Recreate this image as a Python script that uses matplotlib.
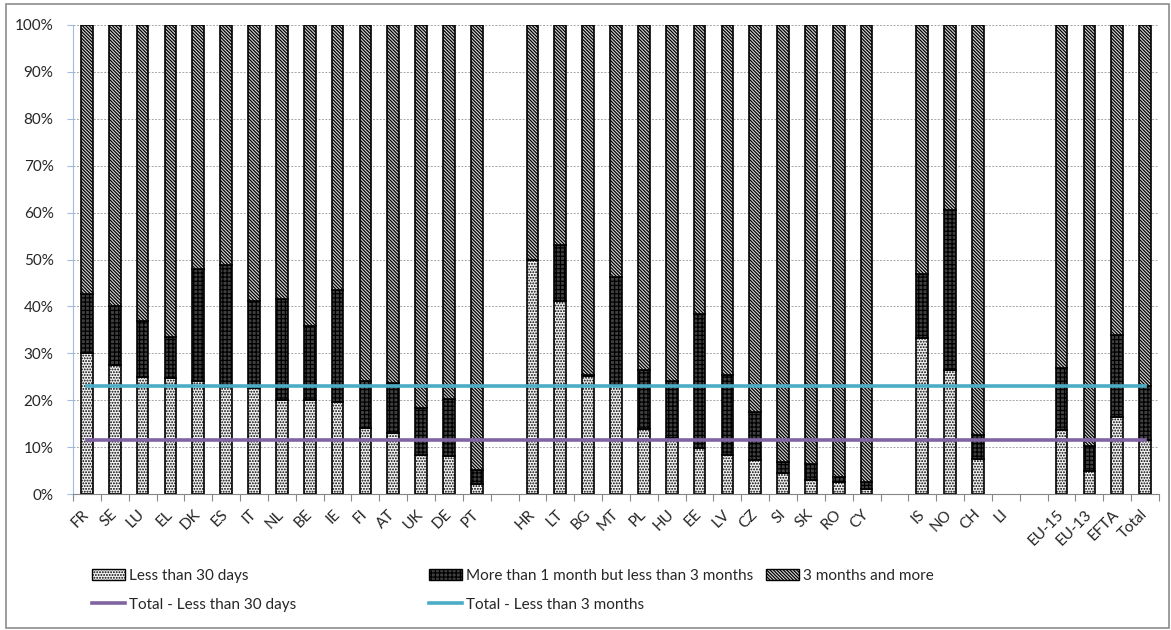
import numpy as np
import matplotlib
matplotlib.use("Agg")
import matplotlib.pyplot as plt
from matplotlib.patches import Patch, Rectangle
from matplotlib.lines import Line2D

# categories ('' = empty spacer slot in the original chart)
countries = ['FR', 'SE', 'LU', 'EL', 'DK', 'ES', 'IT', 'NL', 'BE', 'IE', 'FI', 'AT', 'UK', 'DE', 'PT', '',
             'HR', 'LT', 'BG', 'MT', 'PL', 'HU', 'EE', 'LV', 'CZ', 'SI', 'SK', 'RO', 'CY', '',
             'IS', 'NO', 'CH', 'LI', '',
             'EU-15', 'EU-13', 'EFTA', 'Total']

# shares in %, None = no bar
less_30 = [30.0, 27.6, 25.0, 24.8, 24.2, 22.8, 22.7, 20.0, 20.0, 19.7, 14.0, 13.1, 8.4, 8.1, 2.2, None,
           49.9, 41.1, 25.2, 23.2, 13.8, 12.0, 9.9, 8.3, 7.3, 4.4, 2.9, 2.6, 1.1, None,
           33.3, 26.4, 7.5, None, None,
           13.6, 4.9, 16.4, 11.6]
month_1_3 = [12.6, 12.5, 11.9, 8.7, 23.7, 26.0, 18.5, 21.6, 15.8, 23.9, 10.1, 10.5, 10.0, 12.2, 2.9, None,
             0.0, 12.0, 0.1, 23.1, 12.6, 12.1, 28.4, 17.0, 10.2, 2.4, 3.5, 1.0, 1.5, None,
             13.7, 34.2, 5.0, None, None,
             13.2, 5.3, 17.6, 11.4]
months_3_plus = [57.4, 59.9, 63.1, 66.5, 52.1, 51.2, 58.8, 58.4, 64.2, 56.4, 75.9, 76.4, 81.6, 79.7, 94.9, None,
                 50.1, 46.9, 74.7, 53.7, 73.6, 75.9, 61.7, 74.7, 82.5, 93.2, 93.6, 96.4, 97.4, None,
                 53.0, 39.4, 87.5, None, None,
                 73.2, 89.8, 66.0, 77.0]

total_less_30 = 11.6
total_less_3m = 23.0

plt.rcParams['font.family'] = ['Lato', 'DejaVu Sans']
plt.rcParams['hatch.linewidth'] = 0.9

FS = 11
W, H = 1171, 630
fig = plt.figure(figsize=(W / 100, H / 100), dpi=100)
ax = fig.add_axes([73 / W, 1 - 494 / H, (1159 - 73) / W, (494 - 25) / H])

x = np.arange(len(countries))
idx = [i for i, v in enumerate(less_30) if v is not None]
a = np.array([less_30[i] for i in idx]) / 100
b = np.array([month_1_3[i] for i in idx]) / 100
c = np.array([months_3_plus[i] for i in idx]) / 100
xs = x[idx]

dots, grid, diag = '......', '++++', '\\' * 10
c_low, c_mid, c_top = '#f2f2f2', '#404040', '#d9d9d9'

bw = 0.42
ax.bar(xs, a, bw, color=c_low, edgecolor='black', linewidth=1.2, hatch=dots, zorder=2)
ax.bar(xs, b, bw, bottom=a, color=c_mid, edgecolor='black', linewidth=1.2, hatch=grid, zorder=2)
ax.bar(xs, c, bw, bottom=a + b, color=c_top, edgecolor='black', linewidth=1.2, hatch=diag, zorder=2)

ax.plot([x[0], x[-1]], [total_less_30 / 100] * 2, color='#8064a2', lw=2.6, zorder=3)
ax.plot([x[0], x[-1]], [total_less_3m / 100] * 2, color='#4bacc6', lw=2.6, zorder=3)

ax.set_xlim(-0.5, len(countries) - 0.5)
ax.set_ylim(0, 1)
yt = np.arange(0, 1.01, 0.1)
ax.set_yticks(yt)
ax.set_yticklabels([f'{int(round(t * 100))}%' for t in yt], fontsize=FS, color='#262626')
ax.yaxis.grid(True, color='#a6a6a6', linestyle=(0, (2, 1.5)), linewidth=0.7, zorder=0)
ax.set_axisbelow(True)

ax.set_xticks(x)
ax.set_xticklabels(countries, rotation=45, ha='right', va='center', rotation_mode='anchor',
                   fontsize=FS, color='#262626')
ax.tick_params(axis='x', length=0, pad=13)
ax.set_xticks(np.arange(-0.5, len(countries)), minor=True)
ax.tick_params(axis='x', which='minor', length=5, color='#868686', width=0.8)
ax.tick_params(axis='y', length=4, color='#9dbbe3', width=0.8, pad=10)

for s in ['top', 'right']:
    ax.spines[s].set_visible(False)
ax.spines['left'].set_color('#9dbbe3')
ax.spines['bottom'].set_color('#868686')
ax.spines['bottom'].set_linewidth(0.8)

# legend, laid out in three columns like the original
h_less = Patch(facecolor=c_low, edgecolor='black', hatch=dots, label='Less than 30 days')
h_mid = Patch(facecolor=c_mid, edgecolor='black', hatch=grid, label='More than 1 month but less than 3 months')
h_long = Patch(facecolor=c_top, edgecolor='black', hatch=diag, label='3 months and more')
h_l30 = Line2D([], [], color='#8064a2', lw=2.6, label='Total - Less than 30 days')
h_l3m = Line2D([], [], color='#4bacc6', lw=2.6, label='Total - Less than 3 months')

kw = dict(frameon=False, fontsize=FS, handlelength=2.15, handleheight=0.72, handletextpad=0.25,
          labelspacing=0.95, borderaxespad=0, borderpad=0, loc='upper left',
          labelcolor='#262626')
fig.legend(handles=[h_less, h_l30], bbox_to_anchor=(92 / W, 1 - 569 / H), **kw)
fig.legend(handles=[h_mid, h_l3m], bbox_to_anchor=(429 / W, 1 - 569 / H), **kw)
fig.legend(handles=[h_long], bbox_to_anchor=(766 / W, 1 - 569 / H), **kw)

fig.patches.append(Rectangle((6 / W, 2 / H), 1 - 8 / W, 1 - 6 / H, transform=fig.transFigure,
                             fill=False, edgecolor='#8c8c8c', linewidth=1.2))

fig.savefig('out.png', dpi=100)
